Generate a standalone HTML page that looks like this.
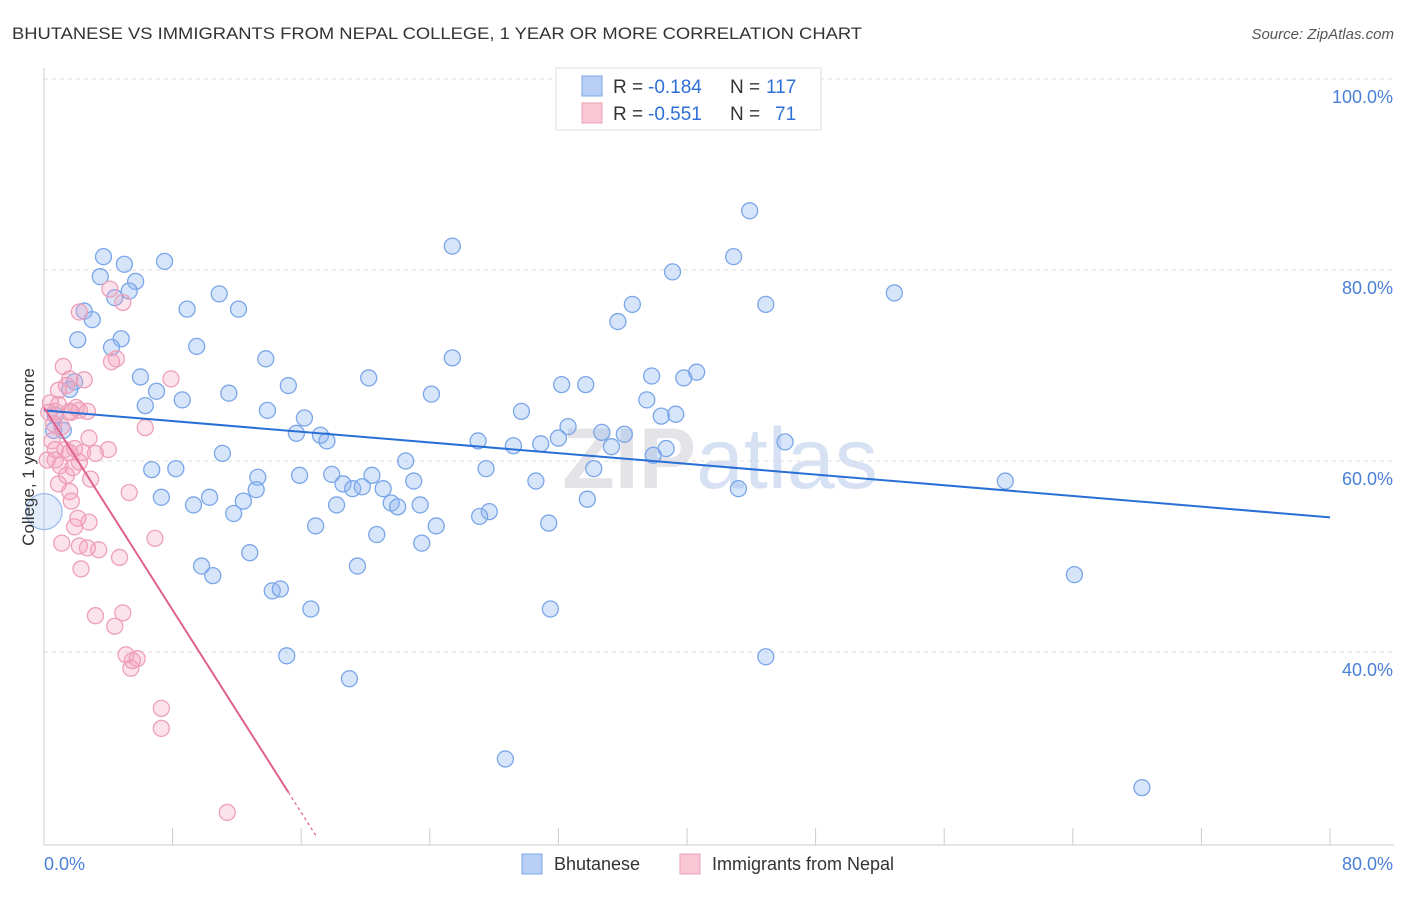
<!DOCTYPE html>
<html><head><meta charset="utf-8"><style>
body{margin:0;background:#fff;font-family:"Liberation Sans",sans-serif}
svg text{font-family:"Liberation Sans",sans-serif}
</style></head><body>
<svg id="chart" width="1406" height="892" viewBox="0 0 1406 892" xmlns="http://www.w3.org/2000/svg">
<text x="12" y="39" font-size="17" fill="#333" textLength="850" lengthAdjust="spacingAndGlyphs">BHUTANESE VS IMMIGRANTS FROM NEPAL COLLEGE, 1 YEAR OR MORE CORRELATION CHART</text>
<text x="1394" y="39" font-size="15" fill="#555" font-style="italic" text-anchor="end">Source: ZipAtlas.com</text>
<text x="720" y="488" font-size="86" fill="#e4e4e8" text-anchor="middle" font-weight="bold">ZIP<tspan font-weight="normal" fill="#d6e2f3">atlas</tspan></text>
<g id="grid"></g>
<g id="axes"></g>
<g id="marks"></g>
<g id="lines"></g>
<text transform="translate(34,457) rotate(-90)" font-size="17" fill="#333" text-anchor="middle">College, 1 year or more</text>
<g>
<rect x="556" y="68" width="265" height="62" fill="#fff" stroke="#ddd"/>
<rect x="582" y="76" width="20" height="20" fill="#b8d0f5" stroke="#7aa6e8"/>
<rect x="582" y="103" width="20" height="20" fill="#f9c6d6" stroke="#eda0b8"/>
<text x="613" y="93" font-size="19" fill="#333">R =</text>
<text x="648" y="93" font-size="19" fill="#2f6fd8">-0.184</text>
<text x="730" y="93" font-size="19" fill="#333">N =</text>
<text x="766" y="93" font-size="19" fill="#2f6fd8">117</text>
<text x="613" y="120" font-size="19" fill="#333">R =</text>
<text x="648" y="120" font-size="19" fill="#2f6fd8">-0.551</text>
<text x="730" y="120" font-size="19" fill="#333">N =</text>
<text x="775" y="120" font-size="19" fill="#2f6fd8">71</text>
</g>
<g>
<rect x="522" y="854" width="20" height="20" fill="#b8d0f5" stroke="#7aa6e8"/>
<text x="554" y="870" font-size="18" fill="#333">Bhutanese</text>
<rect x="680" y="854" width="20" height="20" fill="#f9c6d6" stroke="#eda0b8"/>
<text x="712" y="870" font-size="18" fill="#333">Immigrants from Nepal</text>
</g>
</svg>
<script>
const yTicks=[100,80,60,40];
const xTickLabels=["0.0%","80.0%"];
const blueX=[3.7,5.0,5.7,7.5,3.5,5.3,4.4,2.5,3.0,2.1,4.8,4.2,8.9,10.9,12.1,9.5,13.8,6.0,6.3,7.0,8.6,11.5,13.9,15.2,16.2,15.7,17.2,17.6,20.2,24.1,25.4,25.4,29.7,32.2,33.7,32.6,32.0,30.9,27.0,29.2,27.5,35.7,36.6,39.1,42.9,43.9,44.9,52.9,37.5,37.8,39.8,40.6,38.4,39.3,36.1,34.7,35.3,37.9,38.7,34.2,33.8,30.6,27.7,27.1,31.4,31.5,28.7,43.2,46.1,59.8,64.1,68.3,44.9,6.7,8.2,7.3,10.3,9.3,11.1,11.8,13.3,13.2,12.4,12.8,9.8,10.5,14.2,14.7,16.6,15.1,19.0,15.9,17.9,16.9,18.2,18.6,19.2,20.4,19.8,21.1,22.5,21.6,22.0,23.0,23.4,24.4,20.7,23.5,19.5,0.6,1.2,1.9,1.6,0.7];
const blueY=[81.4,80.6,78.8,80.9,79.3,77.8,77.1,75.7,74.8,72.7,72.8,71.9,75.9,77.5,75.9,72.0,70.7,68.8,65.8,67.3,66.4,67.1,65.3,67.9,64.5,62.9,62.7,62.1,68.7,67.0,82.5,70.8,65.2,68.0,68.0,63.6,62.4,61.8,62.1,61.6,59.2,74.6,76.4,79.8,81.4,86.2,76.4,77.6,66.4,68.9,68.7,69.3,64.7,64.9,62.8,63.0,61.5,60.6,61.3,59.2,56.0,57.9,54.7,54.2,53.5,44.5,28.8,57.1,62.0,57.9,48.1,25.8,39.5,59.1,59.2,56.2,56.2,55.4,60.8,54.5,58.3,57.0,55.8,50.4,49.0,48.0,46.4,46.6,44.5,39.6,37.2,58.5,58.6,53.2,55.4,57.6,57.1,58.5,57.3,57.1,60.0,55.6,55.2,57.9,55.4,53.2,52.3,51.4,49.0,63.2,63.2,68.3,67.5,64.8];
const pinkX=[1.4,0.9,1.6,2.5,0.3,0.7,1.6,2.2,2.7,0.6,1.1,1.7,0.5,0.7,1.3,1.6,1.9,2.4,3.2,1.0,1.8,2.2,2.9,4.0,0.7,2.8,1.2,2.0,1.4,0.9,1.6,1.7,2.1,2.8,1.9,1.1,2.2,2.7,3.4,4.7,2.3,5.3,6.9,7.9,6.3,4.5,4.2,2.2,4.1,4.9,3.2,4.9,4.4,5.1,5.4,5.8,5.5,7.3,7.3,11.4,0.2,0.4,0.9];
const pinkY=[67.9,67.4,68.6,68.5,65.1,65.2,65.2,65.3,65.2,63.9,63.6,65.1,62.1,61.2,61.2,60.9,61.3,60.9,60.8,59.5,59.3,59.9,58.1,61.2,60.1,62.4,69.9,65.6,58.5,57.6,56.8,55.8,54.0,53.6,53.1,51.4,51.1,50.9,50.7,49.9,48.7,56.7,51.9,68.6,63.5,70.7,70.4,75.6,78.0,76.6,43.8,44.1,42.7,39.7,38.3,39.3,39.1,34.1,32.0,23.2,60.1,66.1,65.9];
const bigPoint=[0,54.7];
const blueTrend=[65.3,54.1];
const pinkTrend=[65.6,-2.65];
const pinkSolidEnd=15.2, pinkDashEnd=17.0;

const NS="http://www.w3.org/2000/svg";
const xs=v=>44+v/80*1286;
const ys=v=>79+(100-v)*9.55;
function mk(tag,attrs,parent){const e=document.createElementNS(NS,tag);for(const k in attrs)e.setAttribute(k,attrs[k]);document.getElementById(parent).appendChild(e);return e;}

yTicks.forEach(t=>{
  const l=mk('line',{x1:44,x2:1394,y1:ys(t),y2:ys(t),stroke:'#ddd','stroke-dasharray':'4,4'},'grid');
  
  
  const tx=mk('text',{x:1393,y:ys(t)+24,'font-size':18,fill:'#4a80d8','text-anchor':'end'},'axes');
  tx.textContent=t.toFixed(1)+'%';
  
  
});
const ax=mk('line',{x1:44,x2:44,y1:68,y2:845,stroke:'#ccc'},'axes');


const bx=mk('line',{x1:44,x2:1394,y1:845,y2:845,stroke:'#ccc'},'axes');


for(let i=0;i<=10;i++){
  const tk=mk('line',{x1:xs(i*8),x2:xs(i*8),y1:828,y2:845,stroke:'#ccc'},'axes');
  
  
}
const xl0=mk('text',{x:44,y:870,'font-size':18,fill:'#4a80d8'},'axes');xl0.textContent=xTickLabels[0];


const xl1=mk('text',{x:1393,y:870,'font-size':18,fill:'#4a80d8','text-anchor':'end'},'axes');xl1.textContent=xTickLabels[1];



blueX.forEach((x,i)=>{
  const c=mk('circle',{cx:xs(x),cy:ys(blueY[i]),r:8,fill:'rgba(140,180,240,0.35)',stroke:'#7aa6e8','stroke-width':1.3},'marks');
  
  
});
const bp=mk('circle',{cx:xs(bigPoint[0]),cy:ys(bigPoint[1]),r:18,fill:'rgba(140,180,240,0.25)',stroke:'#9dbcec','stroke-width':1.3},'marks');


pinkX.forEach((x,i)=>{
  const c=mk('circle',{cx:xs(x),cy:ys(pinkY[i]),r:8,fill:'rgba(245,160,190,0.3)',stroke:'#eda0b8','stroke-width':1.3},'marks');
  
  
});
const bl=mk('line',{x1:xs(0),y1:ys(blueTrend[0]),x2:xs(80),y2:ys(blueTrend[1]),stroke:'#2a6fd6','stroke-width':2},'lines');


const pf=x=>pinkTrend[0]+pinkTrend[1]*x;
const pl=mk('line',{x1:xs(0),y1:ys(pf(0)),x2:xs(pinkSolidEnd),y2:ys(pf(pinkSolidEnd)),stroke:'#e0608f','stroke-width':2},'lines');


const pd=mk('line',{x1:xs(pinkSolidEnd),y1:ys(pf(pinkSolidEnd)),x2:xs(pinkDashEnd),y2:ys(pf(pinkDashEnd)),stroke:'#e0608f','stroke-width':1.2,'stroke-dasharray':'3,3'},'lines');


</script>
</body></html>
